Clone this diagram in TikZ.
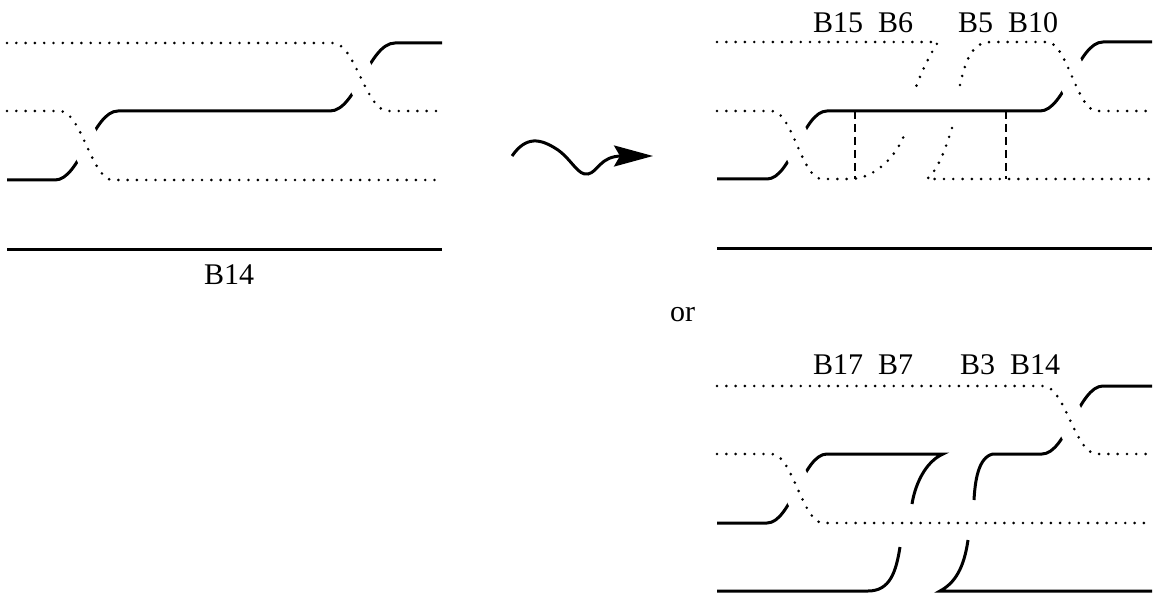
\documentclass[tikz,border=0pt]{standalone}
\usepackage{fontspec}
\setmainfont{Liberation Serif}
\usetikzlibrary{arrows.meta}
\tikzset{
  strand/.style={line width=3pt},
  dots/.style={line width=2.9pt, line cap=round, dash pattern=on 0pt off 9.3pt},
  over/.style={preaction={draw=white, line width=30pt, solid, line cap=butt}},
  link/.style={line width=2.6pt, dash pattern=on 8pt off 5pt},
  lbl/.style={anchor=base west, inner sep=0pt, font=\fontsize{30}{36}\selectfont},
}
\begin{document}
\begin{tikzpicture}[x=1pt,y=-1pt]
\useasboundingbox (0,0) rectangle (1156,596);
% ---------------- left diagram ----------------
\draw[strand] (442,43) -- (395,43) .. controls (369,43) and (356,111) .. (330,111)
  -- (118,111) .. controls (93,111) and (80,180) .. (55,180) -- (7,180);
\draw[dots,over] (7,43) -- (333,43) .. controls (355,43) and (366,111) .. (388,111) -- (442,111);
\draw[dots,over] (7,111) -- (60,111) .. controls (81,111) and (92,180) .. (113,180) -- (442,180);
\draw[strand] (7,249) -- (442,249);
\node[lbl] (lB14a) at (204,284) {B14};
% ---------------- arrow ----------------
\coordinate (ws) at (512,156);
\coordinate (we) at (653,156);
\draw[strand, -{Stealth[length=39pt,width=21pt,inset=6pt]}] (ws)
  .. controls (526,136) and (540,138) .. (558,150)
  .. controls (572,160) and (578,176) .. (588,174)
  .. controls (598,172) and (600,156) .. (622,156) -- (we);
\node[lbl] (lor) at (670,321) {or};
% ---------------- top right diagram ----------------
\draw[strand] (1152,42) -- (1103,42) .. controls (1078,42) and (1065,111) .. (1040,111)
  -- (827,111) .. controls (803,111) and (791,179) .. (767,179) -- (717,179);
% dotted strand A
\draw[dots,over] (717,42) -- (938,42) .. controls (928,58) and (920,75) .. (915,90);
\draw[dots,over] (717,111) -- (772,111) .. controls (792,111) and (802,179) .. (822,179)
  -- (850,179) .. controls (872,179) and (895,160) .. (905,133);
% dotted strand B
\draw[dots,over] (960,85) .. controls (965,62) and (972,42) .. (990,42) -- (1047,42)
  .. controls (1067,42) and (1077,111) .. (1097,111) -- (1152,111);
\draw[dots,over] (952,128) .. controls (945,150) and (938,170) .. (927,179) -- (1152,179);
\draw[link] (855,111) -- (855,179);
\draw[link] (1006,111) -- (1006,179);
\draw[strand] (717,248) -- (1152,248);
\node[lbl] (lB15) at (813,33) {B15};
\node[lbl] (lB6) at (878,33) {B6};
\node[lbl] (lB5) at (958,33) {B5};
\node[lbl] (lB10) at (1008,33) {B10};
% ---------------- bottom right diagram ----------------
\draw[strand] (1152,386) -- (1103,386) .. controls (1079,386) and (1066,454) .. (1042,454)
  -- (993,454) .. controls (978,457) and (975,482) .. (974,500);
\draw[strand] (968,540) .. controls (964,568) and (955,583) .. (940,591) -- (1152,591);
\draw[strand] (717,523) -- (767,523) .. controls (791,523) and (803,454) .. (827,454)
  -- (943,454) .. controls (925,462) and (915,485) .. (912,504);
\draw[strand] (900,547) .. controls (896,572) and (890,591) .. (868,591) -- (717,591);
\draw[dots,over] (717,386) -- (1043,386) .. controls (1065,386) and (1075,454) .. (1097,454) -- (1152,454);
\draw[dots,over] (717,454) -- (772,454) .. controls (792,454) and (803,523) .. (823,523) -- (1152,523);
\node[lbl] (lB17) at (813,374) {B17};
\node[lbl] (lB7) at (878,374) {B7};
\node[lbl] (lB3) at (960,374) {B3};
\node[lbl] (lB14b) at (1010,374) {B14};
\end{tikzpicture}
\end{document}
